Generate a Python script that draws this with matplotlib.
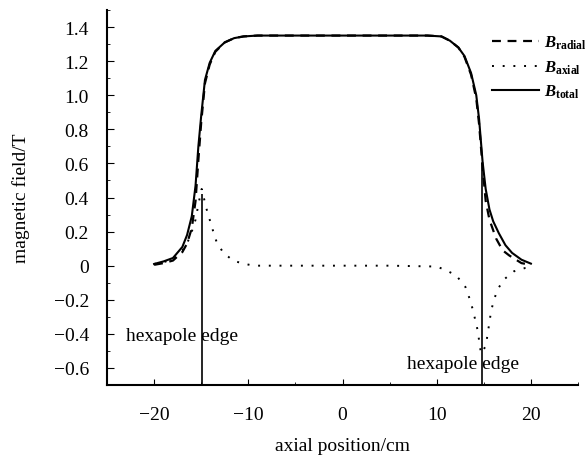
import numpy as np
import matplotlib
matplotlib.use('Agg')
from matplotlib import pyplot as plt

# values
x_total = [-20, -19, -18, -17, -16.5, -16, -15.6, -15.3, -15.0, -14.6, -14.1, -13.5,
           -12.5, -11.5, -10.5, -9, -5, 0, 5, 9, 10.5, 11.4, 12.3, 12.95, 13.65, 14.2,
           14.5, 14.87, 15.2, 15.6, 16.0, 16.6, 17.3, 18.0, 19.0, 20.0]
B_total = [0.01, 0.025, 0.045, 0.11, 0.18, 0.29, 0.47, 0.70, 0.88, 1.09, 1.19, 1.26,
           1.31, 1.335, 1.345, 1.35, 1.35, 1.35, 1.35, 1.35, 1.345, 1.32, 1.28, 1.23, 1.13, 1.0,
           0.86, 0.61, 0.45, 0.33, 0.26, 0.19, 0.12, 0.075, 0.035, 0.012]

x_radial = [-20, -19, -18, -17, -16.5, -16, -15.6, -15.3, -15.0, -14.6, -14.1, -13.5,
            -12.5, -11.5, -10.5, -9, -5, 0, 5, 9, 10.5, 11.4, 12.3, 12.95, 13.65, 14.2,
            14.5, 14.87, 15.2, 15.6, 16.3, 17.0, 17.7, 19.0, 20.0]
B_radial = [0.005, 0.015, 0.03, 0.08, 0.13, 0.22, 0.38, 0.62, 0.84, 1.07, 1.18, 1.255,
            1.31, 1.335, 1.345, 1.35, 1.35, 1.35, 1.35, 1.35, 1.345, 1.32, 1.28, 1.225, 1.12, 0.98,
            0.83, 0.58, 0.38, 0.27, 0.16, 0.09, 0.06, 0.015, 0.005]

x_axial = [-20, -19, -18, -17, -16.5, -16, -15.6, -15.3, -14.95, -14.42, -14.07, -13.72,
           -13.37, -12.66, -11.61, -10.56, -9.37, -5, 0, 5, 10, 11.0, 12.07, 13.05, 13.47,
           13.82, 14.1, 14.35, 14.53, 14.7, 15.23, 15.4, 15.58, 15.76, 16.03, 16.45, 17.16,
           18.2, 19.37, 20.0]
B_axial = [0.01, 0.02, 0.04, 0.09, 0.13, 0.2, 0.27, 0.36, 0.45, 0.33, 0.265, 0.20,
           0.14, 0.076, 0.03, 0.012, 0.0, 0.0, 0.0, 0.0, -0.005, -0.027, -0.057, -0.125, -0.19,
           -0.255, -0.32, -0.38, -0.45, -0.515, -0.47, -0.40, -0.34, -0.27, -0.21, -0.14, -0.08,
           -0.033, -0.014, -0.01]

edge_x = [-14.95, 14.85]
edge_top = [0.42, 0.6]
edge_label_pos = [(-23.0, -0.41), (6.85, -0.575)]

x_ticks = [-20, -10, 0, 10, 20]
y_ticks = [-0.6, -0.4, -0.2, 0, 0.2, 0.4, 0.6, 0.8, 1.0, 1.2, 1.4]
y_ticklabels = ['\u22120.6', '\u22120.4', '\u22120.2', '0', '0.2', '0.4', '0.6',
                '0.8', '1.0', '1.2', '1.4']

plt.rcParams['font.family'] = 'Liberation Serif'
plt.rcParams['font.size'] = 14
plt.rcParams['mathtext.fontset'] = 'custom'
plt.rcParams['mathtext.it'] = 'Liberation Serif:bold:italic'
plt.rcParams['mathtext.rm'] = 'Liberation Serif:bold'
plt.rcParams['mathtext.bf'] = 'Liberation Serif:bold'

fig = plt.figure(figsize=(5.86, 4.64), dpi=100)
ax = fig.add_axes([107/586, 78/464, 471/586, 375/464])

ax.plot(x_radial, B_radial, color='black', lw=1.6, linestyle=(0, (4, 3)),
        label=r'$B_{\mathrm{radial}}$')
ax.plot(x_axial, B_axial, color='black', lw=1.4, linestyle=(0, (1, 4.5)),
        label=r'$B_{\mathrm{axial}}$')
ax.plot(x_total, B_total, color='black', lw=1.5, label=r'$B_{\mathrm{total}}$')

ax.vlines(edge_x, -0.7, edge_top, color='black', lw=1.2)
for (tx, ty) in edge_label_pos:
    ax.text(tx, ty, 'hexapole edge', ha='left', va='center', fontsize=14)

ax.set_xlim(-25, 25)
ax.set_ylim(-0.7, 1.5)
ax.set_xticks(x_ticks)
ax.set_yticks(y_ticks)
ax.set_yticklabels(y_ticklabels)
ax.set_xticks(np.arange(-25, 26, 5), minor=True)
ax.set_yticks(np.arange(-0.7, 1.51, 0.1), minor=True)
ax.tick_params(axis='both', which='both', direction='in')
ax.tick_params(axis='x', which='major', length=4, pad=15)
ax.tick_params(axis='y', which='major', length=5, pad=13)
ax.tick_params(which='minor', length=2.5)
ax.tick_params(axis='x', which='minor', length=2)
for s in ['top', 'right']:
    ax.spines[s].set_visible(False)
for s in ['left', 'bottom']:
    ax.spines[s].set_linewidth(1.5)

ax.set_xlabel('axial position/cm', labelpad=10)
ax.set_ylabel('magnetic field/T', labelpad=17)

ax.legend(loc='upper left', bbox_to_anchor=(492/586, 429/464),
          bbox_transform=fig.transFigure, frameon=False, borderpad=0,
          borderaxespad=0, handlelength=2.8, handletextpad=0.3,
          labelspacing=0.42, fontsize=12)

fig.savefig('out.png', dpi=100)
